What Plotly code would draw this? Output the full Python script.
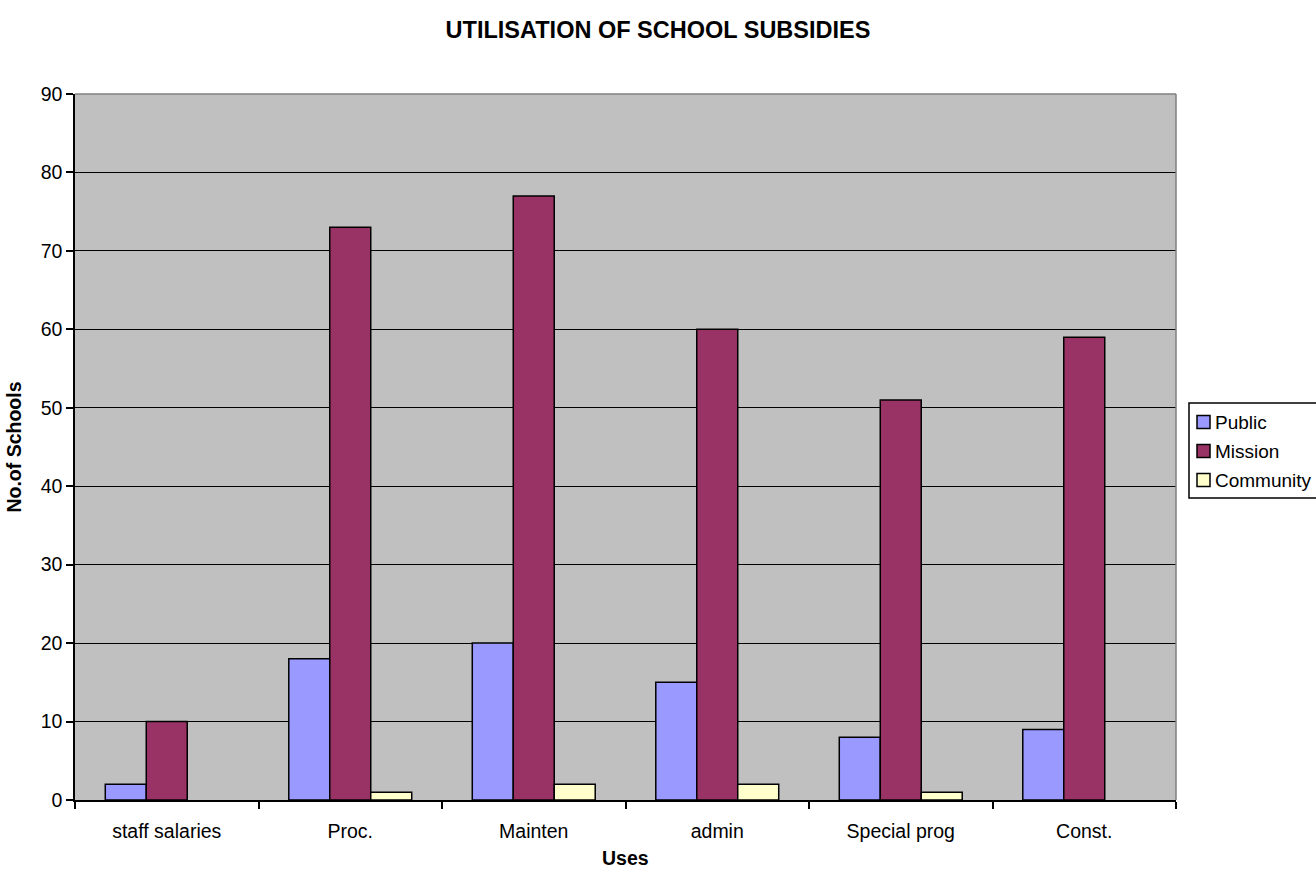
import plotly.graph_objects as go

# Uses of the school subsidies and number of schools per type
uses = ["staff salaries", "Proc.", "Mainten", "admin", "Special prog", "Const."]
public = [2, 18, 20, 15, 8, 9]
mission = [10, 73, 77, 60, 51, 59]
community = [0, 1, 2, 2, 1, 0]

y_ticks = list(range(0, 91, 10))

font_family = "Liberation Sans, Arial, sans-serif"

series = [
    ("Public", public, "#9999FF"),
    ("Mission", mission, "#993366"),
    ("Community", community, "#FFFFCC"),
]

W, H = 1316, 872
L, R, T, B = 75, 140, 94, 72
plot_w = W - L - R
plot_h = H - T - B


def px_x(px):
    """pixel column -> paper x"""
    return (px - L) / plot_w


def px_y(py):
    """pixel row -> paper y"""
    return (H - B - py) / plot_h


fig = go.Figure()
for name, vals, color in series:
    # empty bars get no outline so nothing is drawn on the baseline
    widths = [0 if v == 0 else 1.5 for v in vals]
    fig.add_trace(go.Bar(
        name=name, x=uses, y=vals, showlegend=False,
        marker=dict(color=color, line=dict(color="black", width=widths)),
    ))

fig.update_layout(
    width=W, height=H,
    barmode="group", bargap=0.33, bargroupgap=0,
    paper_bgcolor="white", plot_bgcolor="#C0C0C0",
    margin=dict(l=L, r=R, t=T, b=B, autoexpand=False),
    font=dict(family=font_family, size=19.5, color="black"),
    title=dict(text="<b>UTILISATION OF SCHOOL SUBSIDIES</b>", x=0.5, xref="container",
               xanchor="center", y=1 - 30 / H, yanchor="middle",
               font=dict(size=23.5, family=font_family)),
    showlegend=False,
)

fig.update_xaxes(
    showline=True, linecolor="black", linewidth=1.5, mirror=False,
    ticks="outside", tickson="boundaries", ticklen=7, tickcolor="black", tickwidth=1.5,
    ticklabelstandoff=13,
    showgrid=False, automargin=False,
)
fig.update_yaxes(
    title=dict(text="<b>No.of Schools</b>", font=dict(size=19.5), standoff=14),
    range=[0, 90], tickvals=y_ticks,
    showline=True, linecolor="black", linewidth=1.5,
    ticks="outside", ticklen=7, tickcolor="black", tickwidth=1.5,
    showgrid=True, gridcolor="black", gridwidth=1.2,
    zeroline=False, automargin=False,
)

# x-axis title sitting close to the bottom edge
fig.add_annotation(text="<b>Uses</b>", xref="paper", yref="paper",
                   x=0.5, y=px_y(858), xanchor="center", yanchor="middle",
                   showarrow=False, font=dict(size=19.5, family=font_family))

# grey frame on the top and right sides of the plot area
fig.add_shape(type="line", xref="paper", yref="paper", x0=0, x1=1, y0=1, y1=1,
              line=dict(color="#808080", width=1.5))
fig.add_shape(type="line", xref="paper", yref="paper", x0=1, x1=1, y0=0, y1=1,
              line=dict(color="#808080", width=1.5))

# legend box at the right edge, with one swatch and label per series
box_left, box_top, box_bottom = 1189, 403, 498
fig.add_shape(type="rect", xref="paper", yref="paper",
              x0=px_x(box_left), x1=px_x(W + 10), y0=px_y(box_bottom), y1=px_y(box_top),
              line=dict(color="black", width=1.5), fillcolor="white", layer="above")
row_y = [422, 451, 480]
for (name, _, color), cy in zip(series, row_y):
    fig.add_shape(type="rect", xref="paper", yref="paper",
                  x0=px_x(1197), x1=px_x(1210), y0=px_y(cy + 6.5), y1=px_y(cy - 6.5),
                  line=dict(color="black", width=1.5), fillcolor=color, layer="above")
    fig.add_annotation(text=name, xref="paper", yref="paper",
                       x=px_x(1213), y=px_y(cy), xanchor="left", yanchor="middle",
                       showarrow=False, font=dict(size=19, family=font_family))

fig.write_html("out.html")
